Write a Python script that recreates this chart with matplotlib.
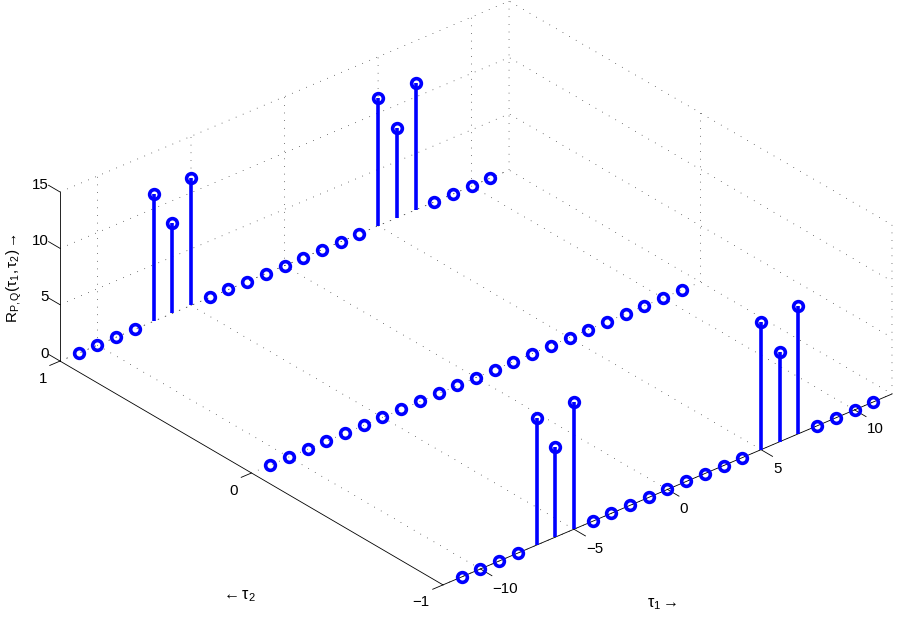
import matplotlib
matplotlib.use("Agg")
import matplotlib.pyplot as plt
import numpy as np

plt.rcParams['font.family'] = ['Liberation Sans', 'DejaVu Sans']
plt.rcParams['mathtext.fontset'] = 'custom'
plt.rcParams['mathtext.rm'] = 'Liberation Sans'
plt.rcParams['mathtext.it'] = 'Liberation Serif:italic'
plt.rcParams['mathtext.default'] = 'rm'
plt.rcParams['axes.unicode_minus'] = True

# ---- data ----
tau1 = [-11, -10, -9, -8, -7, -6, -5, -4, -3, -2, -1, 0, 1, 2, 3, 4, 5, 6, 7, 8, 9, 10, 11]
tau2_rows = [-1, 0, 1]
peak_row = [0, 0, 0, 0, 11.3, 8, 11.3, 0, 0, 0, 0, 0, 0, 0, 0, 0, 11.3, 8, 11.3, 0, 0, 0, 0]
zero_row = [0] * 23
rows = {-1: peak_row, 0: zero_row, 1: peak_row}
xticks = [-10, -5, 0, 5, 10]
yticks = [-1, 0, 1]
zticks = [0, 5, 10, 15]
xlim = (-12, 12)
ylim = (-1, 1)
zlim = (0, 15)

BLUE = '#0000ff'
W, H = 899, 619
fig = plt.figure(figsize=(W / 100, H / 100), dpi=100)
S = 1000
ax = fig.add_axes([-37.5 / W, -187.5 / H, S / W, S / H], projection='3d', proj_type='ortho')
ax.patch.set_alpha(0)
ax.view_init(elev=29.9, azim=-130.46)
ax.set_box_aspect((590, 590, 195), zoom=0.832)
ax.set_xlim(*xlim)
ax.set_ylim(*ylim)
ax.set_zlim(*zlim)
ax.set_xticks(xticks)
ax.set_yticks(yticks)
ax.set_zticks(zticks)
ax.grid(True)

# the z tick labels sit in the +tau2 direction, as in the reference
ax.zaxis._get_tickdir = lambda pos: 1

for axis in (ax.xaxis, ax.yaxis, ax.zaxis):
    axis.pane.set_visible(False)
    axis.line.set_color('black')
    axis.line.set_linewidth(0.6)
    axis._axinfo['grid'].update(color='black', linewidth=0.5, linestyle=(0, (1, 10)))
    axis._axinfo['tick'].update(inward_factor=0.0, outward_factor=0.0)
ax.tick_params(axis='both', labelsize=10.8, colors='black')
ax.tick_params(axis='x', pad=4)
ax.tick_params(axis='y', pad=3)
ax.tick_params(axis='z', pad=-3)

for lab in ax.get_xticklabels():
    lab.set_ha('left')
for lab in ax.get_yticklabels():
    lab.set_ha('right')
for lab in ax.get_zticklabels():
    lab.set_ha('right')
    lab.set_va('bottom')

# tick marks
tl = dict(color='black', lw=0.6, zorder=1)
for v in xticks:
    ax.plot([v, v], [ylim[0], ylim[0] - 0.06], [0, 0], **tl)
for v in yticks:
    ax.plot([xlim[0], xlim[0] - 0.55], [v, v], [0, 0], **tl)
for v in zticks:
    ax.plot([xlim[0], xlim[0]], [ylim[1], ylim[1] + 0.06], [v, v], **tl)

for t2 in tau2_rows:
    ml, sl, bl = ax.stem(tau1, [t2] * len(tau1), rows[t2], linefmt='-', markerfmt='o', basefmt=' ')
    plt.setp(sl, color=BLUE, linewidth=2.6)
    plt.setp(ml, markerfacecolor='none', markeredgecolor=BLUE, markeredgewidth=2.6, markersize=7)

fig.text(662 / W, 1 - 604 / H, r'$\tau_1\rightarrow$', ha='center', va='center', fontsize=11.5)
fig.text(238 / W, 1 - 596 / H, r'$\leftarrow\tau_2$', ha='center', va='center', fontsize=11.5)
fig.text(14 / W, 1 - 278 / H, r'$\mathrm{R}_{\mathrm{P,Q}}(\tau_1,\tau_2)\rightarrow$', rotation=90,
         ha='center', va='center', fontsize=11)

fig.savefig('out.png', dpi=100)
